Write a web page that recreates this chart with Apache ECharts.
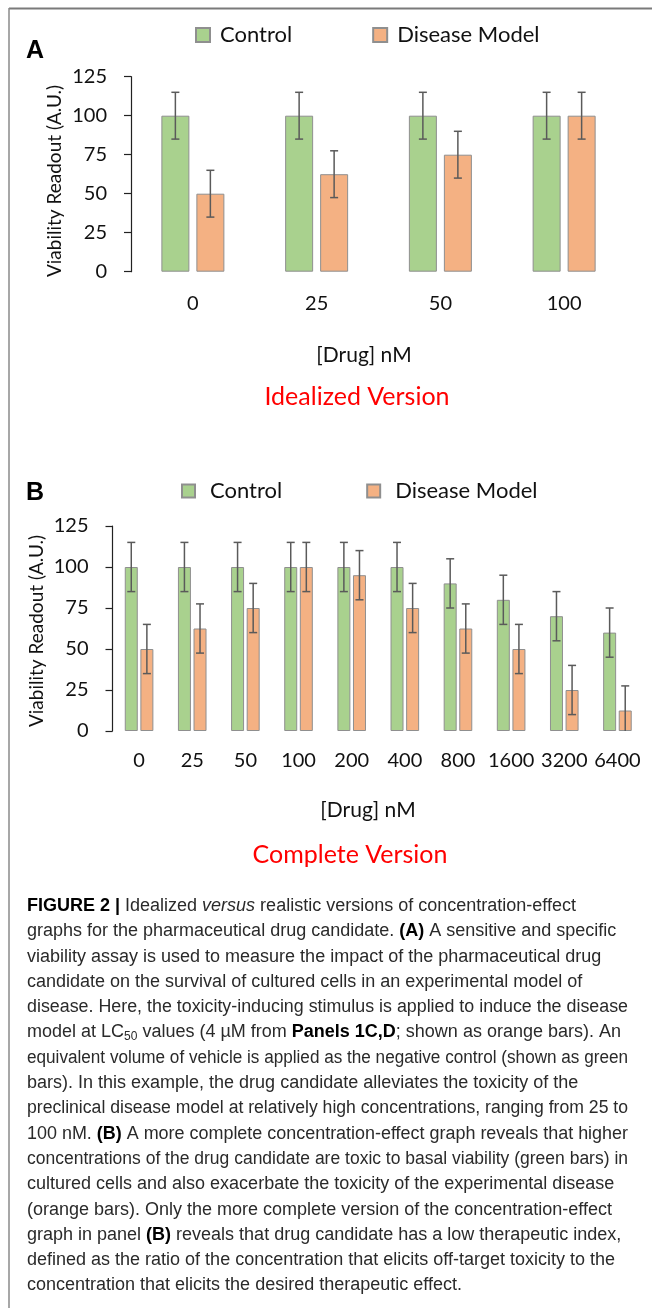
<!DOCTYPE html>
<html>
<head>
<meta charset="utf-8">
<script src="https://cdn.jsdelivr.net/npm/echarts@6/dist/echarts.min.js"></script>
<style>
html,body{margin:0;padding:0;background:#fff;}
#chart{width:652px;height:1308px;}
</style>
</head>
<body>
<div id="chart"></div>
<script>
// ---------- data ----------
var categoriesA = ['0', '25', '50', '100'];
var controlA = [100, 100, 100, 100];
var controlErrA = [15, 15, 15, 15];
var diseaseA = [50, 62.5, 75, 100];
var diseaseErrA = [15, 15, 15, 15];

var categoriesB = ['0', '25', '50', '100', '200', '400', '800', '1600', '3200', '6400'];
var controlB = [100, 100, 100, 100, 100, 100, 90, 80, 70, 60];
var controlErrB = [15, 15, 15, 15, 15, 15, 15, 15, 15, 15];
var diseaseB = [50, 62.5, 75, 100, 95, 75, 62.5, 50, 25, 12.5];
var diseaseErrB = [15, 15, 15, 15, 15, 15, 15, 15, 15, 15];

var yTicks = [0, 25, 50, 75, 100, 125];

var captionLines = [
  '{b|FIGURE 2 |} Idealized {i|versus} realistic versions of concentration-effect',
  'graphs for the pharmaceutical drug candidate. {b|(A)} A sensitive and specific',
  'viability assay is used to measure the impact of the pharmaceutical drug',
  'candidate on the survival of cultured cells in an experimental model of',
  'disease. Here, the toxicity-inducing stimulus is applied to induce the disease',
  'model at LC{sub|50} values (4 \u00b5M from {b|Panels 1C,D}; shown as orange bars). An',
  'equivalent volume of vehicle is applied as the negative control (shown as green',
  'bars). In this example, the drug candidate alleviates the toxicity of the',
  'preclinical disease model at relatively high concentrations, ranging from 25 to',
  '100 nM. {b|(B)} A more complete concentration-effect graph reveals that higher',
  'concentrations of the drug candidate are toxic to basal viability (green bars) in',
  'cultured cells and also exacerbate the toxicity of the experimental disease',
  '(orange bars). Only the more complete version of the concentration-effect',
  'graph in panel {b|(B)} reveals that drug candidate has a low therapeutic index,',
  'defined as the ratio of the concentration that elicits off-target toxicity to the',
  'concentration that elicits the desired therapeutic effect.'
];

// ---------- style ----------
var GREEN = '#A9D18E', ORANGE = '#F4B183', BORDER = '#8f8f8f', ERR = '#5a5a5a';
var FONT = 'Lato, "Open Sans", sans-serif';
var CAP_FAMILY = '"Liberation Sans", Arial, sans-serif';
var CAP_SIZE = 18, CAP_SUB = 12, CAP_MAXW = 601;
var BW_A = 28, GAP_A = 0.25, BW_B = 13, GAP_B = 0.2;

function errSeries(name, vals, errs, xi, offset, cap) {
  var data = vals.map(function (v, i) { return [i, v, errs[i]]; });
  return {
    type: 'custom', name: name + ' err', xAxisIndex: xi, yAxisIndex: xi, z: 5,
    data: data, silent: true,
    renderItem: function (params, api) {
      var i = api.value(0), v = api.value(1), e = api.value(2);
      var lo = Math.max(0, v - e);
      var top = api.coord([i, v + e]);
      var bot = api.coord([i, lo]);
      var cx = top[0] + offset;
      var st = { stroke: ERR, lineWidth: 1.5 };
      var ch = [
        { type: 'line', shape: { x1: cx, y1: top[1], x2: cx, y2: bot[1] }, style: st },
        { type: 'line', shape: { x1: cx - cap, y1: top[1], x2: cx + cap, y2: top[1] }, style: st }
      ];
      if (v - e >= 0) ch.push({ type: 'line', shape: { x1: cx - cap, y1: bot[1], x2: cx + cap, y2: bot[1] }, style: st });
      return { type: 'group', children: ch };
    }
  };
}

function barSeries(name, vals, xi, color, bw, gap) {
  return {
    type: 'bar', name: name, xAxisIndex: xi, yAxisIndex: xi, data: vals,
    barWidth: bw, barGap: (gap * 100) + '%',
    itemStyle: { color: color, borderColor: BORDER, borderWidth: 1 },
    emphasis: { disabled: true }
  };
}

function yAxis(gi, margin) {
  return {
    type: 'value', gridIndex: gi, min: 0, max: 125, interval: 25,
    axisLine: { show: true, lineStyle: { color: '#222', width: 1.2 } },
    axisTick: { show: true, length: 7, lineStyle: { color: '#222', width: 1.2 } },
    splitLine: { show: false },
    axisLabel: { fontFamily: FONT, fontSize: 20, color: '#111', margin: margin }
  };
}
function xAxis(gi, cats, margin) {
  return {
    type: 'category', gridIndex: gi, data: cats,
    axisLine: { show: false }, axisTick: { show: false },
    axisLabel: { fontFamily: FONT, fontSize: 20, color: '#111', margin: margin, interval: 0 }
  };
}

// measure a caption line (rich markup) to fit it into the column width
var mctx = document.createElement('canvas').getContext('2d');
function measureLine(ln) {
  var re = /\{(\w+)\|([^}]*)\}|([^{]+)/g, m, w = 0;
  while ((m = re.exec(ln)) !== null) {
    var txt, font;
    if (m[3] !== undefined) { txt = m[3]; font = CAP_SIZE + 'px ' + CAP_FAMILY; }
    else {
      txt = m[2];
      if (m[1] === 'b') font = 'bold ' + CAP_SIZE + 'px ' + CAP_FAMILY;
      else if (m[1] === 'i') font = 'italic ' + CAP_SIZE + 'px ' + CAP_FAMILY;
      else font = CAP_SUB + 'px ' + CAP_FAMILY;
    }
    mctx.font = font;
    w += mctx.measureText(txt).width;
  }
  return w;
}

var offA = (BW_A * (1 + GAP_A)) / 2, offB = (BW_B * (1 + GAP_B)) / 2;

var graphics = [
  { type: 'line', shape: { x1: 9, y1: 8.5, x2: 652, y2: 8.5 }, style: { stroke: '#7a7a7a', lineWidth: 2 } },
  { type: 'line', shape: { x1: 9, y1: 8, x2: 9, y2: 1308 }, style: { stroke: '#8a8a8a', lineWidth: 1.5 } },
  { type: 'text', x: 26, y: 51, style: { text: 'A', font: 'bold 25px "Liberation Sans", Arial', fill: '#000', verticalAlign: 'middle' } },
  { type: 'text', x: 26, y: 493, style: { text: 'B', font: 'bold 25px "Liberation Sans", Arial', fill: '#000', verticalAlign: 'middle' } },
  { type: 'text', x: 55, y: 181, rotation: Math.PI / 2, style: { text: 'Viability Readout (A.U.)', font: '19px ' + FONT, fill: '#111', align: 'center', verticalAlign: 'middle' } },
  { type: 'text', x: 37, y: 631, rotation: Math.PI / 2, style: { text: 'Viability Readout (A.U.)', font: '19px ' + FONT, fill: '#111', align: 'center', verticalAlign: 'middle' } },
  { type: 'text', x: 364, y: 355, style: { text: '[Drug] nM', font: '21px ' + FONT, fill: '#111', align: 'center', verticalAlign: 'middle' } },
  { type: 'text', x: 368, y: 810, style: { text: '[Drug] nM', font: '21px ' + FONT, fill: '#111', align: 'center', verticalAlign: 'middle' } },
  { type: 'text', x: 357, y: 397, style: { text: 'Idealized Version', font: '25px ' + FONT, fill: '#ff0000', align: 'center', verticalAlign: 'middle' } },
  { type: 'text', x: 350, y: 855, style: { text: 'Complete Version', font: '25px ' + FONT, fill: '#ff0000', align: 'center', verticalAlign: 'middle' } }
];
captionLines.forEach(function (ln, k) {
  var w = measureLine(ln);
  var sx = Math.min(1, CAP_MAXW / w);
  graphics.push({
    type: 'text', x: 27, y: 906 + k * 25.3, scaleX: sx,
    style: {
      text: ln, fill: '#2a2a2a', verticalAlign: 'middle',
      font: CAP_SIZE + 'px ' + CAP_FAMILY,
      rich: {
        b: { fontWeight: 'bold', fontSize: CAP_SIZE, fontFamily: CAP_FAMILY, fill: '#000' },
        i: { fontStyle: 'italic', fontSize: CAP_SIZE, fontFamily: CAP_FAMILY },
        sub: { fontSize: CAP_SUB, fontFamily: CAP_FAMILY, padding: [9, 0, 0, 0] }
      }
    }
  });
});

var chart = echarts.init(document.getElementById('chart'));
chart.setOption({
  animation: false,
  backgroundColor: '#fff',
  legend: [
    { left: 190, top: 19, itemWidth: 14, itemHeight: 14, itemGap: 80, icon: 'rect', data: ['Control', 'Disease Model'],
      textStyle: { fontFamily: FONT, fontSize: 22, color: '#111', padding: [0, 0, 0, 5] }, selectedMode: false },
    { left: 176, top: 475, itemWidth: 13, itemHeight: 13, itemGap: 84, icon: 'rect', data: ['Control', 'Disease Model'],
      textStyle: { fontFamily: FONT, fontSize: 22, color: '#111', padding: [0, 0, 0, 10] }, selectedMode: false }
  ],
  grid: [
    { left: 131, right: 26, top: 76.7, bottom: 1308 - 271.7 },
    { left: 112.5, right: 8, top: 526, bottom: 1308 - 731 }
  ],
  xAxis: [xAxis(0, categoriesA, 22), xAxis(1, categoriesB, 20)],
  yAxis: [yAxis(0, 24), yAxis(1, 24)],
  series: [
    barSeries('Control', controlA, 0, GREEN, BW_A, GAP_A),
    barSeries('Disease Model', diseaseA, 0, ORANGE, BW_A, GAP_A),
    errSeries('Control', controlA, controlErrA, 0, -offA, 4),
    errSeries('Disease Model', diseaseA, diseaseErrA, 0, offA, 4),
    barSeries('Control', controlB, 1, GREEN, BW_B, GAP_B),
    barSeries('Disease Model', diseaseB, 1, ORANGE, BW_B, GAP_B),
    errSeries('Control', controlB, controlErrB, 1, -offB, 4),
    errSeries('Disease Model', diseaseB, diseaseErrB, 1, offB, 4)
  ],
  graphic: graphics
});
</script>
</body>
</html>
